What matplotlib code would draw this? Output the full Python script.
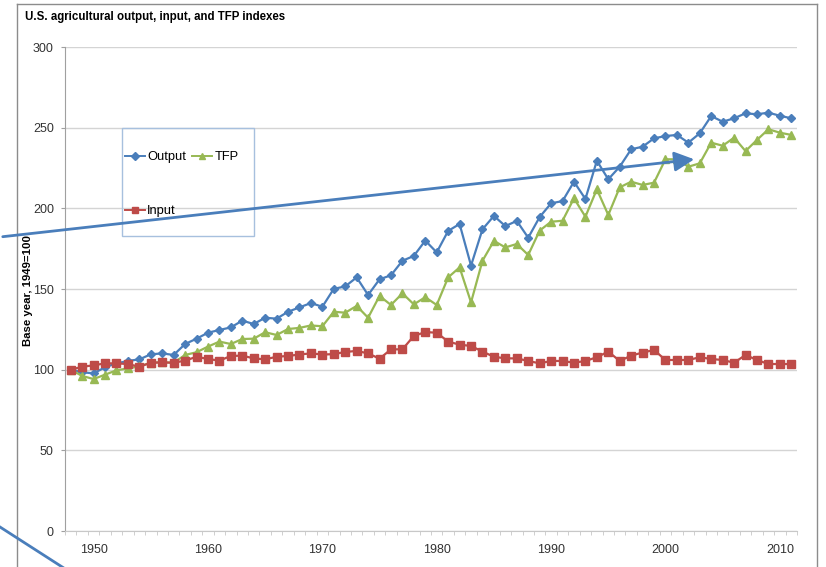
import numpy as np
import matplotlib
matplotlib.use("Agg")
import matplotlib.pyplot as plt
from matplotlib.patches import Rectangle, FancyArrowPatch
from matplotlib.lines import Line2D

plt.rcParams['font.family'] = ['Liberation Sans', 'DejaVu Sans']

years = list(range(1948, 2012))

output = [100, 98.4, 97.7, 101.5, 103.9, 105.4, 106.4, 109.5, 110.1, 109.1,
          115.9, 119.2, 122.9, 124.6, 126.2, 130.4, 128.3, 132.2, 131.6, 135.9,
          138.6, 141.3, 139.0, 150.1, 151.6, 157.2, 146.3, 156.0, 158.5, 167.5,
          170.5, 180.0, 172.7, 186.0, 190.3, 164.5, 187.0, 195.3, 189.0, 192.2,
          181.8, 194.6, 203.1, 204.5, 216.5, 205.8, 229.5, 218.0, 225.8, 236.6,
          238.2, 243.4, 244.8, 245.5, 240.7, 246.5, 257.2, 253.7, 255.8, 258.9,
          258.3, 259.3, 257.4, 255.8]

tfp = [100, 96.1, 94.2, 96.9, 99.6, 100.8, 102.0, 104.3, 104.6, 104.3,
       109.1, 110.8, 114.3, 117.4, 115.9, 119.0, 119.2, 123.2, 121.5, 125.2,
       125.9, 127.4, 126.9, 135.9, 135.3, 139.5, 132.2, 145.7, 140.1, 147.3,
       140.5, 144.9, 140.1, 157.2, 163.4, 141.7, 167.5, 179.8, 175.8, 177.9,
       171.1, 186.2, 191.7, 192.3, 206.2, 194.8, 211.8, 195.9, 213.0, 216.5,
       214.5, 215.9, 230.4, 230.4, 225.8, 227.9, 240.7, 238.8, 243.8, 235.5,
       242.4, 249.0, 246.9, 245.5]

inputs = [100, 101.8, 102.7, 103.9, 103.9, 103.5, 101.8, 104.3, 104.5, 104.3,
          105.6, 108.0, 106.6, 105.6, 108.5, 108.7, 107.0, 106.4, 108.0, 108.5,
          109.4, 110.1, 109.4, 109.6, 111.0, 111.6, 110.1, 106.8, 112.6, 112.6,
          120.9, 123.3, 122.9, 117.4, 115.5, 114.7, 111.2, 108.0, 107.0, 107.0,
          105.4, 103.9, 105.4, 105.4, 104.3, 105.4, 107.7, 111.2, 105.4, 108.7,
          110.6, 112.2, 106.0, 106.0, 106.0, 107.7, 106.6, 106.0, 104.3, 109.1,
          106.0, 103.5, 103.5, 103.5]

W, H = 826, 567
fig = plt.figure(figsize=(W / 100, H / 100), dpi=100)


def fx(x):
    return x / W


def fy(y):
    return 1 - y / H


ax = fig.add_axes([fx(65), fy(531), fx(797) - fx(65), fy(47) - fy(531)])

blue = '#4A7EBB'
red = '#BE4B48'
green = '#98B954'

l_out, = ax.plot(years, output, color=blue, lw=1.6, marker='D', ms=4.5, zorder=3)
l_tfp, = ax.plot(years, tfp, color=green, lw=1.6, marker='^', ms=6, zorder=4)
l_in, = ax.plot(years, inputs, color=red, lw=1.6, marker='s', ms=5.5, zorder=5)

ax.set_xlim(1947.5, 2011.5)
ax.set_ylim(0, 300)
ax.set_yticks(range(0, 301, 50))
ax.set_xticks(range(1950, 2011, 10))
ax.set_xticks(np.arange(1947.5, 2012, 1), minor=True)
ax.grid(axis='y', color='#D4D4D4', lw=1)
ax.set_axisbelow(True)

for s in ['top', 'right']:
    ax.spines[s].set_visible(False)
ax.spines['left'].set_color('#A0A0A0')
ax.spines['bottom'].set_color('#C8C8C8')
ax.tick_params(axis='y', length=3, color='#A0A0A0', pad=5,
               labelsize=9, labelcolor='#333333')
ax.tick_params(axis='x', which='major', length=0, pad=9.5,
               labelsize=9, labelcolor='#333333')
ax.tick_params(axis='x', which='minor', length=3, color='#C8C8C8')

# chart border
fig.add_artist(Line2D([fx(17), fx(17)], [fy(4), 0], color='#8C8C8C', lw=1))
fig.add_artist(Line2D([fx(17), fx(817)], [fy(4), fy(4)], color='#8C8C8C', lw=1))
fig.add_artist(Line2D([fx(817), fx(817)], [fy(4), 0], color='#8C8C8C', lw=1))

fig.text(fx(25), fy(17), 'U.S. agricultural output, input, and TFP indexes',
         fontsize=8.3, fontweight='bold', va='center', ha='left')
fig.text(fx(28), fy(290), 'Base year, 1949=100', rotation=90, fontsize=8.2,
         fontweight='bold', va='center', ha='center')

# legend
fig.add_artist(Rectangle((fx(122), fy(236)), fx(254) - fx(122), fy(128) - fy(236),
                         fill=False, edgecolor='#A7C0DE', lw=1, zorder=6))
leg = ax.legend([l_out, l_in, l_tfp], ['Output', 'Input', 'TFP'], ncol=2,
                frameon=False, fontsize=9.3, loc='upper left',
                bbox_to_anchor=(fx(125), fy(151)), bbox_transform=fig.transFigure,
                handlelength=1.55, handletextpad=0.15, columnspacing=0.5,
                labelspacing=3.25, borderpad=0, borderaxespad=0)
for h in leg.legend_handles:
    h.set_markersize(4)
    h.set_linewidth(1.4)

# arrows
fig.add_artist(FancyArrowPatch((fx(0), fy(237)), (fx(697), fy(159)),
                               transform=fig.transFigure,
                               arrowstyle='-|>,head_length=12,head_width=6',
                               color=blue, lw=2, zorder=10))
fig.add_artist(Line2D([fx(0), fx(70)], [fy(527), fy(572)], color=blue, lw=2, zorder=10))

fig.savefig('out.png', dpi=100)
